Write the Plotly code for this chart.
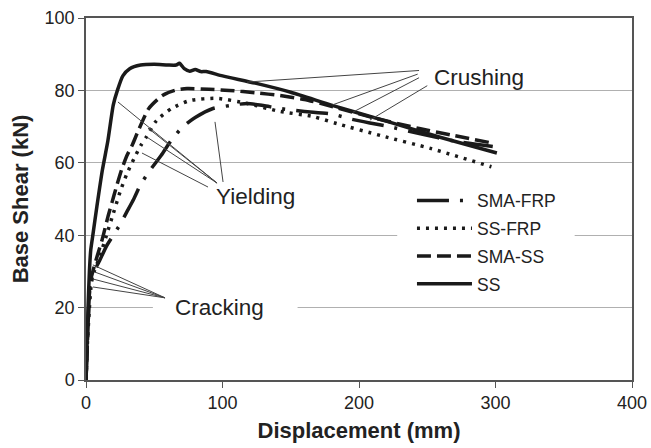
import plotly.graph_objects as go

# Pushover curves: displacement (mm) vs base shear (kN)
ss_disp = [0, 0.8, 1.5, 2.5, 3.5, 5, 8, 12, 16, 20, 23, 27, 32, 40, 50, 60, 66, 68.5, 72, 76, 80, 84, 88,
           100, 124, 150, 181, 220, 260, 301]
ss_shear = [0, 10, 20, 30, 36, 40, 48, 58, 66, 76, 80, 84, 86, 87, 87.2, 87, 87, 87.5, 86, 85.3, 85.8, 85.2, 85.2,
            84, 82, 79.5, 75.8, 71.5, 67, 62.7]

sma_ss_disp = [0, 1, 2, 3, 5, 8, 12, 16, 19, 22, 26, 30, 34, 38, 46, 56, 65, 74, 90, 105, 125, 142, 160, 181,
               210, 245, 270, 297]
sma_ss_shear = [0, 10, 20, 27, 30, 34, 39, 45, 49, 53, 58, 62, 65, 68.6, 75, 78.6, 80, 80.5, 80.3, 80, 79.3,
                78.6, 77.5, 75.5, 72.5, 69.4, 67.5, 65.5]

ss_frp_disp = [0, 1, 2.5, 4, 6, 10, 15, 20, 25, 30, 35, 40, 44, 51.5, 62.6, 76, 96, 118, 142, 166, 184, 216,
               253, 297]
ss_frp_shear = [0, 10, 20, 27, 30, 34, 40, 46, 52, 57, 61, 64.7, 67, 71.6, 75, 77.2, 77.8, 76.4, 74.2, 72.8,
                70.8, 67.5, 63.9, 58.9]

sma_frp_disp = [0, 1, 2, 3, 6, 10, 15, 20, 25, 30, 35, 40, 47, 55, 63, 71, 80, 93, 105, 118, 130, 142, 160,
                180, 195, 208, 222, 245, 270, 298]
sma_frp_shear = [0, 10, 20, 26, 30, 33, 37, 40, 43, 46.5, 50, 54, 58, 62, 66.5, 70, 72.5, 75, 75.8, 76.4, 75.8,
                 75, 74.2, 73.5, 72, 71, 70, 68, 66, 64.5]

series_names = ["SMA-FRP", "SS-FRP", "SMA-SS", "SS"]

# Damage-state labels and the curve points their leader lines point to
crushing_label = (288, 83.7)
crushing_from = [(244, 85.5), (243, 84.5), (244, 83.5), (250, 81.3)]
crushing_to = [(118, 82.3), (180.6, 76), (195.6, 74), (208, 71.8)]

yielding_label = (124.5, 50.6)
yielding_from = [(96, 54.4), (96, 54.4), (96, 54.4), (89.4, 53.3), (100.4, 54.7)]
yielding_to = [(23.4, 76.8), (45.4, 69.6), (45.4, 66.9), (41, 62.7), (94.5, 71.3)]

cracking_label = (97.5, 19.9)
cracking_from = [(57.9, 22.7)] * 4
cracking_to = [(5, 31.8), (6.6, 29.8), (5.1, 27.9), (5.1, 25.7)]

ink = "#1a1a1a"
font_family = "Liberation Sans, Arial, sans-serif"
fig = go.Figure()

styles = {
    "SMA-FRP": dict(x=sma_frp_disp, y=sma_frp_shear, dash="32px,11px,3px,11px"),
    "SS-FRP": dict(x=ss_frp_disp, y=ss_frp_shear, dash="3px,6px"),
    "SMA-SS": dict(x=sma_ss_disp, y=sma_ss_shear, dash="14px,6px"),
    "SS": dict(x=ss_disp, y=ss_shear, dash="solid"),
}
for name in series_names:
    s = styles[name]
    fig.add_trace(go.Scatter(
        x=s["x"], y=s["y"], mode="lines", name=name, legendgroup=name,
        line=dict(color=ink, width=3.5, dash=s["dash"], shape="spline", smoothing=0.6),
    ))

# Leader lines
for starts, ends in ((crushing_from, crushing_to), (yielding_from, yielding_to), (cracking_from, cracking_to)):
    for (x0, y0), (x1, y1) in zip(starts, ends):
        fig.add_shape(type="line", xref="x", yref="y", x0=x0, y0=y0, x1=x1, y1=y1,
                      line=dict(color="#444", width=1), layer="above")

# White strips so the gridlines break around the "Cracking" label and the legend
fig.add_shape(type="rect", xref="x", yref="y", x0=49, x1=155, y0=18.5, y1=21.5,
              fillcolor="white", line=dict(width=0), layer="between")
fig.add_shape(type="rect", xref="x", yref="y", x0=228, x1=358, y0=38.5, y1=41.5,
              fillcolor="white", line=dict(width=0), layer="between")

for text, (x, y) in (("Crushing", crushing_label), ("Yielding", yielding_label), ("Cracking", cracking_label)):
    fig.add_annotation(x=x, y=y, xref="x", yref="y", text=text, showarrow=False,
                       font=dict(family=font_family, size=22.5, color="#222"))

axis_common = dict(
    showline=True, mirror=True, linecolor="#555", linewidth=1.5,
    ticks="outside", ticklen=6, tickcolor="#555", tickwidth=1.2,
    zeroline=False, automargin=False,
    tickfont=dict(family=font_family, size=18, color="#222"),
)

fig.update_layout(
    width=651, height=448,
    margin=dict(l=86, r=19, t=18, b=68),
    paper_bgcolor="white", plot_bgcolor="white",
    xaxis=dict(range=[0, 400], tickvals=[0, 100, 200, 300, 400], showgrid=False,
               title=dict(text="<b>Displacement (mm)</b>", standoff=10,
                          font=dict(family=font_family, size=22, color="#222")),
               **axis_common),
    yaxis=dict(range=[0, 100], tickvals=[0, 20, 40, 60, 80, 100], showgrid=True,
               gridcolor="#b0b0b0", gridwidth=1.2,
               title=dict(text="<b>Base Shear (kN)</b>", standoff=10,
                          font=dict(family=font_family, size=22, color="#222")),
               **axis_common),
    legend=dict(x=0.597, y=0.545, xanchor="left", yanchor="top", bgcolor="rgba(0,0,0,0)",
                tracegroupgap=2, traceorder="grouped", itemwidth=55,
                font=dict(family=font_family, size=17.5, color="#222")),
    showlegend=True,
)

fig.write_html("out.html")
